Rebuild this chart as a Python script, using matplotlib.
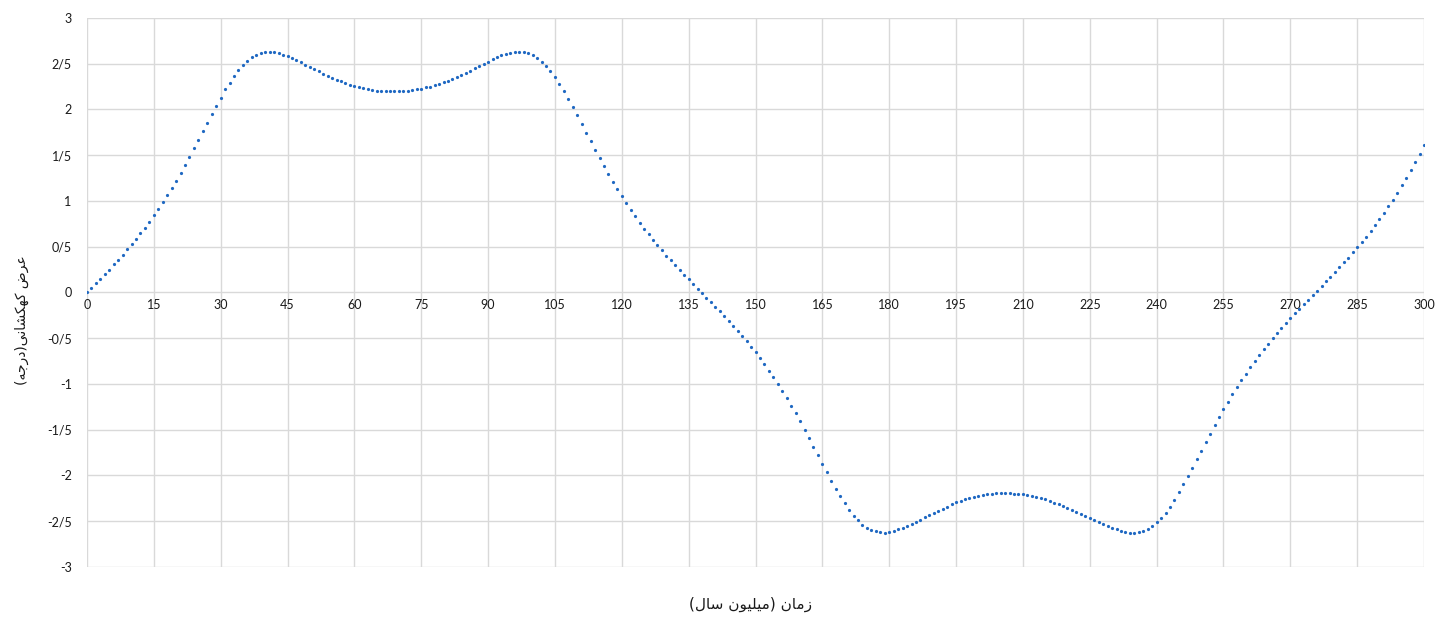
import numpy as np
import matplotlib
matplotlib.use("Agg")
import matplotlib.pyplot as plt
from matplotlib.ticker import FixedLocator, FuncFormatter


# galactic latitude (deg), one reading per million years, 0..300
lat = [
    0.00, 0.05, 0.10, 0.15, 0.20, 0.25, 0.31, 0.36, 0.415, 0.47,
    0.53, 0.585, 0.65, 0.71, 0.775, 0.845, 0.91, 0.99, 1.065, 1.14,
    1.22, 1.31, 1.395, 1.48, 1.575, 1.67, 1.76, 1.855, 1.95, 2.04,
    2.13, 2.22, 2.29, 2.365, 2.43, 2.486, 2.53, 2.57, 2.595, 2.617,
    2.628, 2.628, 2.624, 2.613, 2.598, 2.584, 2.562, 2.537, 2.515, 2.49,
    2.464, 2.44, 2.417, 2.39, 2.37, 2.347, 2.325, 2.308, 2.29, 2.27,
    2.257, 2.242, 2.231, 2.22, 2.213, 2.205, 2.202, 2.198, 2.198, 2.198,
    2.198, 2.202, 2.205, 2.213, 2.22, 2.228, 2.24, 2.25, 2.264, 2.28,
    2.297, 2.315, 2.333, 2.355, 2.377, 2.40, 2.423, 2.45, 2.475, 2.50,
    2.52, 2.548, 2.57, 2.59, 2.606, 2.62, 2.628, 2.628, 2.624, 2.613,
    2.595, 2.566, 2.52, 2.478, 2.417, 2.35, 2.278, 2.198, 2.115, 2.024,
    1.937, 1.842, 1.747, 1.653, 1.558, 1.467, 1.38, 1.293, 1.208, 1.129,
    1.052, 0.976, 0.903, 0.834, 0.764, 0.699, 0.637, 0.575, 0.517, 0.459,
    0.404, 0.35, 0.299, 0.245, 0.193, 0.142, 0.092, 0.04, -0.007, -0.058,
    -0.109, -0.156, -0.207, -0.262, -0.312, -0.367, -0.421, -0.476, -0.535, -0.595,
    -0.655, -0.718, -0.786, -0.855, -0.924, -1.0, -1.073, -1.153, -1.237, -1.32,
    -1.408, -1.499, -1.59, -1.685, -1.78, -1.87, -1.965, -2.056, -2.143, -2.227,
    -2.303, -2.376, -2.441, -2.489, -2.536, -2.569, -2.594, -2.609, -2.62, -2.623,
    -2.62, -2.609, -2.59, -2.572, -2.55, -2.528, -2.503, -2.481, -2.456, -2.433,
    -2.408, -2.383, -2.361, -2.34, -2.314, -2.293, -2.277, -2.26, -2.245, -2.23,
    -2.22, -2.212, -2.205, -2.198, -2.194, -2.194, -2.194, -2.194, -2.198, -2.198,
    -2.205, -2.212, -2.223, -2.234, -2.249, -2.26, -2.277, -2.296, -2.314, -2.332,
    -2.354, -2.376, -2.397, -2.419, -2.441, -2.463, -2.485, -2.507, -2.528, -2.547,
    -2.569, -2.587, -2.602, -2.616, -2.623, -2.623, -2.62, -2.605, -2.58, -2.554,
    -2.51, -2.463, -2.405, -2.34, -2.263, -2.179, -2.096, -2.009, -1.914, -1.823,
    -1.728, -1.633, -1.543, -1.452, -1.36, -1.273, -1.193, -1.114, -1.033, -0.961,
    -0.888, -0.819, -0.749, -0.683, -0.622, -0.56, -0.502, -0.448, -0.393, -0.338,
    -0.284, -0.229, -0.181, -0.131, -0.08, -0.028, 0.019, 0.073, 0.12, 0.171,
    0.223, 0.277, 0.328, 0.382, 0.437, 0.496, 0.55, 0.611, 0.674, 0.736,
    0.801, 0.87, 0.943, 1.015, 1.092, 1.172, 1.256, 1.34, 1.427, 1.514,
    1.609,
]
time = np.arange(len(lat))

x_ticks = list(range(0, 301, 15))
y_ticks = [-3, -2.5, -2, -1.5, -1, -0.5, 0, 0.5, 1, 1.5, 2, 2.5, 3]

# Persian labels, written in visual order with Arabic presentation forms
# "زمان (میلیون سال)"
xlabel_txt = ("(" + "\uFEDD\uFE8E\uFEB3" + " "
              + "\uFEE5\uFEEE\uFBFF\uFEE0\uFBFF\uFEE3" + ")" + " "
              + "\uFEE5\uFE8E\uFEE3\uFEAF")
# "عرض کهکشانی(درجه)"
ylabel_txt = ("(" + "\uFEEA\uFE9F\uFEAD\uFEA9" + ")"
              + "\uFBFD\uFEE7\uFE8E\uFEB8\uFB91\uFEEC\uFB90" + " "
              + "\uFEBD\uFEAE\uFECB")


def persian_num(v, pos=None):
    if v == int(v):
        return str(int(v))
    s = "%g" % v
    return s.replace(".", "/")


fig = plt.figure(figsize=(14.37, 6.19), dpi=100)
ax = fig.add_axes([0.0605, 0.084, 0.9305, 0.887])

ax.plot(time, lat, linestyle="none", marker="o", markersize=2.3,
        color="#1f68c2", markeredgewidth=0)

ax.set_xlim(0, 300)
ax.set_ylim(-3, 3)

ax.xaxis.set_major_locator(FixedLocator(x_ticks))
ax.yaxis.set_major_locator(FixedLocator(y_ticks))
ax.yaxis.set_major_formatter(FuncFormatter(persian_num))
ax.xaxis.set_major_formatter(FuncFormatter(persian_num))

for s in ["top", "right", "left"]:
    ax.spines[s].set_visible(False)
ax.spines["bottom"].set_position(("data", 0))
ax.spines["bottom"].set_color("none")

ax.grid(True, color="#d9d9d9", linewidth=1)
ax.set_axisbelow(True)

ax.tick_params(axis="both", length=0, labelsize=9, labelcolor="#1a1a1a")
ax.tick_params(axis="y", pad=11)
ax.tick_params(axis="x", pad=5)
for lab in ax.get_xticklabels() + ax.get_yticklabels():
    lab.set_family(["Lato", "DejaVu Sans"])

fig.text(0.522, 0.023, xlabel_txt, ha="center", va="center",
         fontsize=11, family=["DejaVu Sans"], color="#1a1a1a")
fig.text(0.0153, 0.483, ylabel_txt, ha="center", va="center", rotation=90,
         fontsize=10, family=["DejaVu Sans"], color="#1a1a1a")

fig.savefig("out.png", dpi=100)
